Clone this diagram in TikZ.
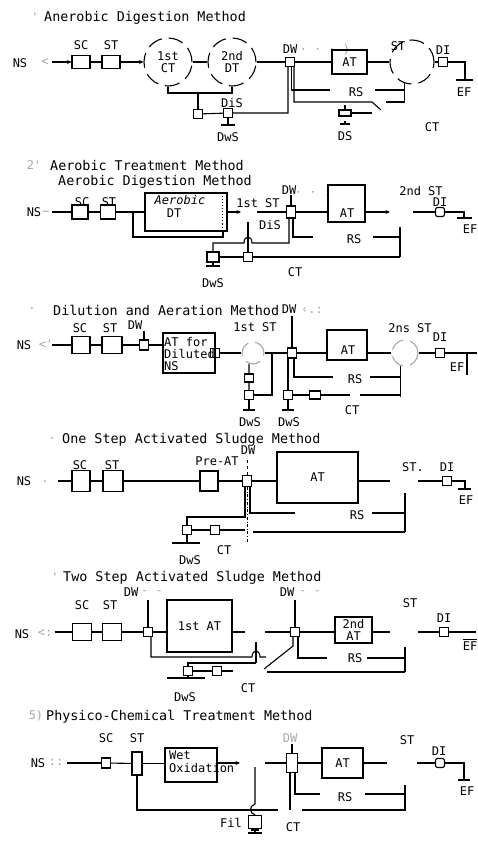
\documentclass[tikz,border=0pt]{standalone}
\usepackage{fontspec}
\newfontfamily\scanfont{DejaVu Sans Mono}
\usetikzlibrary{positioning,arrows.meta}
\newcommand{\lblfont}{\scanfont\fontsize{12}{12}\selectfont}
\newcommand{\headfont}{\scanfont\fontsize{13.4}{13.4}\selectfont}

\begin{document}
\begin{tikzpicture}[
    x=1pt, y=-1pt,
    every node/.style={font=\lblfont, inner sep=0pt},
    box/.style={draw, line width=1.1pt},
    valve/.style={draw, line width=1.1pt, minimum width=9pt, minimum height=9pt},
    tank/.style={circle, draw, line width=1.1pt, dash pattern=on 15pt off 7pt, minimum size=48pt, align=center},
    head/.style={anchor=west, font=\headfont},
    faint/.style={text=black!35},
    pipe/.style={line width=1.1pt},
    >={Stealth[length=4.5pt,width=4pt]}
]
\useasboundingbox (0,0) rectangle (477,841);

% 1) anaerobic digestion
\node[faint] (aNum) at (35,17) {'};
\node[head] (aHead) at (44,18) {Anerobic Digestion Method};
\node (aNS) at (20,63) {NS};
\node[faint] (aMk) at (45,62) {<};
\coordinate (aIn) at (52,62);
\node[box, minimum width=18pt, minimum height=13pt] (aSC) at (81,62) {};
\node[box, minimum width=18pt, minimum height=13pt] (aST) at (111,62) {};
\node[above=5pt of aSC] (aSCl) {SC};
\node[above=5pt of aST] (aSTl) {ST};
\node[tank] (aCT) at (168,62) {1st\\CT};
\node[tank] (aDT) at (232,62) {2nd\\DT};
\node[valve] (aDW) at (290,62) {};
\node[above=3pt of aDW] (aDWl) {DW};
\node[faint, right=2pt of aDWl] (aDWm) {· · · )};
\node[box, minimum width=35pt, minimum height=24pt] (aAT) at (349.5,62) {AT};
\node[tank, minimum size=44pt] (aST2) at (412,62) {};
\node (aST2l) at (398,46) {ST};
\node[valve] (aDI) at (443,62) {};
\node[above=2pt of aDI] (aDIl) {DI};
\coordinate (aEF) at (465,80);
\node (aEFl) at (464,92) {EF};

\draw[pipe,->] (aIn) -- (aSC);
\draw[pipe] (aSC) -- (aST);
\draw[pipe,->] (aST) -- (aCT);
\draw[pipe] (aCT) -- (aDT);
\draw[pipe] (aDT) -- (aDW);
\draw[pipe] (aDW) -- (aAT);
\draw[pipe] (aAT) -- (aST2);
\draw[pipe] (aST2) -- (aDI);
\draw[pipe] (aDI) -| (aEF);
\draw[pipe] ([xshift=-9pt]aEF) -- ([xshift=8pt]aEF);

% digested sludge
\coordinate (aBr) at (198,93);
\node[valve] (aSV) at (198,114) {};
\node[valve] (aDiS) at (228,113) {};
\node (aDiSl) at (232,103) {DiS};
\coordinate (aDwS) at (228,125);
\node (aDwSl) at (228,137) {DwS};
\coordinate (aK1) at (288,113);
\draw[pipe] (aCT.south) |- (aBr) -| (aDT.south);
\draw[pipe] (aBr) -- (aSV);
\draw[pipe] (aSV) -- (aDiS) -- (aK1) -- (aK1 |- aDW.south);
\draw[pipe] (aDiS) -- (aDwS);
\draw[pipe] ([xshift=-7pt]aDwS) -- ([xshift=7pt]aDwS);

% return sludge, DS and CT
\coordinate (aRSa) at (330,90);
\coordinate (aRSb) at (375,90);
\coordinate (aCTa) at (372,102);
\coordinate (aCTb) at (386,102);
\node (aRSl) at (356,92) {RS};
\draw[pipe] ([xshift=1.5pt]aDW.south) |- (aRSa);
\draw[pipe] ([xshift=4pt]aDW.south) |- (aCTa) -- ++(9,8);
\draw[pipe] (aRSb) -| (aST2.250);
\draw[pipe] (aST2.250) |- (aCTb);
\node[box, minimum width=12pt, minimum height=6pt] (aDS) at (345,113) {};
\coordinate (aDSr) at (372,113);
\coordinate (aDSg) at (345,124);
\node (aDSl) at (345,136) {DS};
\node (aCTl) at (432,127) {CT};
\draw[pipe] (aDS) -- (aDSr);
\draw[pipe] (aDS.north) -- ++(0,-4);
\draw[pipe] ([xshift=-5pt]aDSg) -- ([xshift=5pt]aDSg);
\draw[pipe] (aDSg) -- ++(0,-3);

% 2) aerobic treatment
\node[faint] (bNum) at (34,165) {2'};
\node[head] (bHead) at (50,166) {Aerobic Treatment Method};
\node[head] (bSub) at (58,182) {Aerobic Digestion Method};
\node (bNS) at (34,212) {NS};
\node[faint] (bMk) at (46,213) {\textasciitilde};
\coordinate (bIn) at (52,212);
\node[box, minimum width=16pt, minimum height=14pt] (bSC) at (80,212) {};
\node[box, minimum width=15pt, minimum height=14pt] (bST) at (108,212) {};
\node (bSCl) at (82,202) {SC};
\node (bSTl) at (109,202) {ST};
\node[box, minimum width=82pt, minimum height=38pt] (bDT) at (186,212) {};
\node[font=\lblfont\itshape] (bDTl1) at (180,200) {Aerobic};
\node (bDTl2) at (174,213) {DT};
\draw[dotted, line width=1.1pt] ([xshift=-5pt]bDT.north east) -- ([xshift=-5pt]bDT.south east);
\coordinate (bBr) at (133,212);
\coordinate (bBr2) at (223,237);
\draw[pipe] (bIn) -- (bSC);
\draw[pipe] (bSC) -- (bST);
\draw[pipe] (bST) -- (bDT);
\draw[pipe] (bBr) |- (bBr2) -- (bBr2 |- bDT.south);
\coordinate (bS1a) at (241,212);
\coordinate (bS1b) at (257,212);
\draw[pipe,->] (bDT) -- (bS1a);
\node (bS1l) at (258,203) {1st ST};
\node[valve, minimum height=12pt] (bDW) at (291,212) {};
\node (bDWl) at (289,190) {DW};
\node[faint] (bDWm) at (313,193) {· · :};
\draw[pipe] (bS1b) -- (bDW);
\draw[pipe] (bDW.north) -- ++(0,-10);
\node[box, minimum width=37pt, minimum height=37pt] (bAT) at (346.5,203.5) {};
\node (bATl) at (347,213) {AT};
\draw[pipe] (bDW) -- (bDW -| bAT.west);
\coordinate (bS2a) at (390,212);
\coordinate (bS2b) at (413,212);
\draw[pipe,->] (bAT.east |- bS2a) -- (bS2a);
\node (bS2l) at (421,191) {2nd ST};
\node[valve, rounded corners=2pt] (bDI) at (440,212) {};
\node (bDIl) at (440,202) {DI};
\coordinate (bEF) at (464,218);
\node (bEFl) at (470,229) {EF};
\draw[pipe] (bS2b) -- (bDI);
\draw[pipe] (bDI) -| (bEF);
\draw[pipe] ([xshift=-7pt]bEF) -- ([xshift=8pt]bEF);

% return sludge and CT
\coordinate (bRSa) at (313,237);
\coordinate (bRSb) at (373,237);
\coordinate (bV) at (400,227);
\coordinate (bCTr) at (400,257);
\node (bRSl) at (354,239) {RS};
\draw[pipe] ([xshift=2pt]bDW.south) |- (bRSa);
\draw[pipe] (bRSb) -| (bV);
\draw[pipe] (bV) -- (bCTr);
\node[valve, minimum width=12pt, minimum height=10pt] (bB1) at (213,257) {};
\node[valve] (bB2) at (248,257) {};
\coordinate (bDiS) at (248,222);
\node (bDiSl) at (270,225) {DiS};
\draw[pipe] (bDiS) -- (bB2);
\coordinate (bH) at (289,243);
\draw[pipe] (bB1.north) |- (244,243) .. controls (244,235) and (252,235) .. (252,243) -- (bH) -- (bH |- bDW.south);
\draw[pipe] (bB1) -- (bB2) -- (bCTr);
\node (bCTl) at (295,272) {CT};
\coordinate (bDwS) at (213,266);
\draw[pipe] (bB1.south) -- (bDwS);
\draw[pipe] ([xshift=-7pt]bDwS) -- ([xshift=7pt]bDwS);
\node (bDwSl) at (213,283) {DwS};

% 3) dilution and aeration
\node[faint] (cNum) at (32,310) {·};
\node[head] (cHead) at (53,310) {Dilution and Aeration Method};
\node (cNS) at (24,345) {NS};
\node[faint] (cMk) at (46,344) {<'};
\coordinate (cIn) at (52,345);
\node[box, minimum width=18pt, minimum height=17pt] (cSC) at (81,345) {};
\node[box, minimum width=20pt, minimum height=17pt] (cST) at (112,345) {};
\node (cSCl) at (80,328) {SC};
\node (cSTl) at (110,328) {ST};
\node[valve, minimum height=10pt] (cDWa) at (144,345) {};
\node (cDWal) at (135,325) {DW};
\draw[pipe] (cDWa.north) -- ++(0,-8);
\node[box, minimum width=52pt, minimum height=40pt] (cATd) at (189,353) {};
\node[align=left, anchor=north west] (cATdl) at (164,337) {AT for\\Diluted\\NS};
\node[valve] (cX) at (215,353) {};
\node[tank, minimum size=22pt, draw=black!35] (cST1) at (253,353) {};
\node (cST1l) at (255,327) {1st ST};
\node[valve, minimum height=10pt] (cDW) at (292,353) {};
\node (cDWl) at (289,309) {DW};
\node[faint] (cDWm) at (312,310) {‹.:};
\draw[pipe] (cDW.north) -- ++(0,-31);
\node[box, minimum width=40pt, minimum height=30pt] (cAT) at (347,345) {};
\node (cATl) at (348,350) {AT};
\node[tank, minimum size=26pt, draw=black!35] (cST2) at (405,353) {};
\node (cST2l) at (410,328) {2ns ST};
\node[valve] (cDI) at (440,353) {};
\node (cDIl) at (440,337) {DI};
\coordinate (cOut) at (477,353);
\coordinate (cEF) at (467,375);
\node (cEFl) at (457,367) {EF};
\draw[pipe] (cIn) -- (cSC);
\draw[pipe] (cSC) -- (cST);
\draw[pipe] (cST) -- (cDWa);
\draw[pipe] (cDWa) -- (cDWa -| cATd.west);
\draw[pipe] (cX) -- (cST1);
\draw[pipe] (cST1) -- (cDW);
\draw[pipe] (cDW) -- (cDW -| cAT.west);
\draw[pipe] (cAT.east |- cST2) -- (cST2);
\draw[pipe] (cST2) -- (cDI);
\draw[pipe] (cDI) -- (cOut);
\draw[pipe] (cEF |- cOut) -- (cEF);

% return sludge and CT
\coordinate (cRSa) at (333,377);
\coordinate (cRSb) at (370,377);
\coordinate (cV) at (403,397);
\node (cRSl) at (355,379) {RS};
\draw[pipe] ([xshift=2pt]cDW.south) |- (cRSa);
\draw[pipe] (cRSb) -| (cST2.250);
\draw[pipe] (cST2.250) -- (cST2.250 |- cV);
\node[valve] (cB3) at (288,395) {};
\node[valve, minimum width=11pt, minimum height=8pt] (cB4) at (315,395) {};
\coordinate (cCTa) at (350,395);
\coordinate (cCTb) at (360,395);
\draw[pipe] (cB3 |- cDW.south) -- (cB3);
\draw[pipe] (cB3) -- (cB4) -- (cCTa);
\draw[pipe] (cCTb) -- (cCTb -| cST2.250);
\node (cCTl) at (352,410) {CT};
\node[valve, minimum height=8pt] (cB1) at (249,378) {};
\node[valve] (cB2) at (249,395) {};
\draw[pipe] (cST1.250) -- (cB1) -- (cB2);
\coordinate (cK) at (272,353);
\draw[pipe] (cB2) -| (cK);
\coordinate (cG1) at (249,410);
\coordinate (cG2) at (288,410);
\draw[pipe] (cB2) -- (cG1);
\draw[pipe] (cB3) -- (cG2);
\draw[pipe] ([xshift=-6pt]cG1) -- ([xshift=6pt]cG1);
\draw[pipe] ([xshift=-6pt]cG2) -- ([xshift=6pt]cG2);
\node (cDwS1) at (250,422) {DwS};
\node (cDwS2) at (289,422) {DwS};

% 4) one step activated sludge
\node[faint] (dNum) at (52,440) {·};
\node[head] (dHead) at (62,440) {One Step Activated Sludge Method};
\node (dNS) at (24,481) {NS};
\node[faint] (dMk) at (45,482) {.};
\coordinate (dIn) at (58,481);
\node[box, minimum width=18pt, minimum height=21pt] (dSC) at (81,481) {};
\node[box, minimum width=20pt, minimum height=21pt] (dST) at (113,481) {};
\node (dSCl) at (80,465) {SC};
\node (dSTl) at (112,465) {ST};
\node[box, minimum width=18pt, minimum height=20pt] (dPre) at (209,481) {};
\node (dPrel) at (217,461) {Pre-AT};
\node[valve, minimum height=11pt] (dDW) at (247,481) {};
\node (dDWl) at (248,450) {DW};
\draw[dashed] (dDW.north) -- ++(0,-16);
\node[box, minimum width=81pt, minimum height=51pt] (dAT) at (317.5,477.5) {AT};
\coordinate (dS2a) at (390,481);
\coordinate (dS2b) at (418,481);
\node (dS2l) at (413,467) {ST.};
\node[valve] (dDI) at (447,481) {};
\node (dDIl) at (447,467) {DI};
\coordinate (dEF) at (465,489);
\node (dEFl) at (466,500) {EF};
\draw[pipe] (dIn) -- (dSC);
\draw[pipe] (dSC) -- (dST);
\draw[pipe] (dST) -- (dPre);
\draw[pipe] (dPre) -- (dDW);
\draw[pipe] (dDW) -- (dDW -| dAT.west);
\draw[pipe] (dAT.east |- dS2a) -- (dS2a);
\draw[pipe] (dS2b) -- (dDI);
\draw[pipe] (dDI) -| (dEF);
\draw[pipe] ([xshift=-7pt]dEF) -- ([xshift=6pt]dEF);

% return sludge and CT
\coordinate (dRSa) at (295,513);
\coordinate (dRSb) at (372,513);
\coordinate (dV) at (405,493);
\coordinate (dCTr) at (405,532);
\node (dRSl) at (357,515) {RS};
\draw[pipe] ([xshift=3pt]dDW.south) |- (dRSa);
\draw[pipe] (dRSb) -| (dV);
\draw[pipe] (dV) -- (dCTr);
\coordinate (dCTa) at (253,532);
\draw[pipe] (dCTa) -- (dCTr);
\node[valve] (dB1) at (187,530) {};
\node[valve] (dB2) at (215,530) {};
\coordinate (dK) at (187,517);
\coordinate (dB2r) at (245,530);
\draw[pipe] ([xshift=-2pt]dDW.south) |- (dK) -- (dB1);
\draw[pipe] (dB1) -- (dB2) -- (dB2r);
\draw[dash dot] (dDW.south) -- ++(0,55);
\node (dCTl) at (224,550) {CT};
\coordinate (dG) at (187,543);
\draw[pipe] (dB1) -- (dG);
\draw[pipe] ([xshift=-15pt]dG) -- ([xshift=13pt]dG);
\node (dDwSl) at (190,560) {DwS};

% 5) two step activated sludge
\node[faint] (eNum) at (55,577) {'};
\node[head] (eHead) at (63,578) {Two Step Activated Sludge Method};
\node (eNS) at (22,634) {NS};
\node[faint] (eMk) at (45,633) {<:};
\coordinate (eIn) at (55,632);
\node[box, minimum width=19pt, minimum height=17pt] (eSC) at (82,632) {};
\node[box, minimum width=19pt, minimum height=17pt] (eST) at (112,632) {};
\node (eSCl) at (82,605) {SC};
\node (eSTl) at (110,605) {ST};
\node[valve] (eJ1) at (148,632) {};
\node (eDW1l) at (131,592) {DW};
\node[faint] (eDW1m) at (152,593) {- -};
\draw[pipe] (eJ1.north) -- ++(0,-27);
\node[box, minimum width=65pt, minimum height=52pt] (eAT1) at (199.5,626) {1st AT};
\coordinate (eS1a) at (245,632);
\coordinate (eS1b) at (265,632);
\node[valve] (eJ2) at (295,632) {};
\node (eDW2l) at (287,592) {DW};
\node[faint] (eDW2m) at (310,593) {- -};
\draw[pipe] (eJ2.north) -- ++(0,-27);
\node[box, minimum width=37pt, minimum height=26pt, align=center] (eAT2) at (353.5,630) {2nd\\AT};
\coordinate (eS2a) at (390,632);
\coordinate (eS2b) at (418,632);
\node (eS2l) at (410,603) {ST};
\node[valve] (eDI) at (444,632) {};
\node (eDIl) at (444,618) {DI};
\coordinate (eOut) at (476,632);
\node (eEFl) at (470,646) {EF};
\draw[pipe] ([yshift=2pt]eEFl.north west) -- ([yshift=2pt]eEFl.north east);
\draw[pipe] (eIn) -- (eSC);
\draw[pipe] (eSC) -- (eST);
\draw[pipe] (eST) -- (eJ1);
\draw[pipe] (eJ1) -- (eJ1 -| eAT1.west);
\draw[pipe] (eAT1.east |- eS1a) -- (eS1a);
\draw[pipe] (eS1b) -- (eJ2);
\draw[pipe] (eJ2) -- (eJ2 -| eAT2.west);
\draw[pipe] (eAT2.east |- eS2a) -- (eS2a);
\draw[pipe] (eS2b) -- (eDI) -- (eOut);

% sludge lines
\coordinate (eR1) at (266,657);
\draw[pipe] ([xshift=3pt]eJ1.south) |- (252,657) .. controls (252,649) and (260,649) .. (260,657) -- (eR1);
\coordinate (eV1) at (256,642);
\coordinate (eV2) at (256,663);
\draw[pipe] (eV1) -- (eV2);
\node[valve] (eB1) at (188,671) {};
\node[valve] (eB2) at (217,671) {};
\coordinate (eB2r) at (233,671);
\draw[pipe] (eB1.north) |- (eV2);
\draw[pipe] (eB1) -- (eB2) -- (eB2r);
\coordinate (eD1) at (264,669);
\draw[pipe] ([xshift=-2pt]eJ2.south) -- ++(0,9) -- (eD1);
\coordinate (eRSa) at (327,658);
\coordinate (eRSb) at (367,658);
\coordinate (eV) at (405,647);
\coordinate (eCTr) at (405,672);
\coordinate (eCTa) at (267,672);
\node (eRSl) at (355,658) {RS};
\draw[pipe] ([xshift=3pt]eJ2.south) |- (eRSa);
\draw[pipe] (eRSb) -| (eV);
\draw[pipe] (eV) -- (eCTr);
\draw[pipe] (eCTa) -- (eCTr);
\node (eCTl) at (248,688) {CT};
\coordinate (eG) at (188,678);
\draw[pipe] (eB1) -- (eG);
\draw[pipe] ([xshift=-21pt]eG) -- ([xshift=17pt]eG);
\node (eDwSl) at (185,697) {DwS};

% 6) physico-chemical
\node[faint] (fNum) at (36,716) {5)};
\node[head] (fHead) at (46,717) {Physico-Chemical Treatment Method};
\node (fNS) at (38,763) {NS};
\node[faint] (fMk) at (56,762) {::};
\coordinate (fIn) at (67,763);
\node[valve, minimum height=10pt] (fSC) at (106,763) {};
\node[box, minimum width=10pt, minimum height=23pt] (fST) at (137,763.5) {};
\node (fSCl) at (106,738) {SC};
\node (fSTl) at (137,738) {ST};
\node[box, minimum width=52pt, minimum height=34pt] (fWO) at (191,765) {};
\node[anchor=west] (fWOl1) at (169,755) {Wet};
\node[anchor=west] (fWOl2) at (169,768) {Oxidation};
\coordinate (fS1a) at (240,763);
\coordinate (fS1b) at (265,763);
\node[valve, minimum width=11pt, minimum height=19pt] (fDW) at (292,763) {};
\node[faint] (fDWl) at (290,738) {DW};
\draw[pipe] (fDW.north) -- ++(0,-9);
\node[box, minimum width=41pt, minimum height=30pt] (fAT) at (342.5,763) {AT};
\coordinate (fS2a) at (387,763);
\coordinate (fS2b) at (417,763);
\node (fS2l) at (407,740) {ST};
\node[valve, rounded corners=2pt] (fDI) at (440,763) {};
\node (fDIl) at (439,751) {DI};
\coordinate (fEF) at (464,780);
\node (fEFl) at (467,791) {EF};
\draw[pipe] (fIn) -- (fSC);
\draw[pipe] (fSC) -- (fST);
\draw[pipe] (fST) -- (fST -| fWO.west);
\draw[pipe,->] (fWO.east |- fS1a) -- (fS1a);
\draw[pipe] (fS1b) -- (fDW);
\draw[pipe] (fDW) -- (fAT);
\draw[pipe] (fAT) -- (fS2a);
\draw[pipe] (fS2b) -- (fDI);
\draw[pipe] (fDI) -| (fEF);
\draw[pipe] ([xshift=-6pt]fEF) -- ([xshift=6pt]fEF);

% return sludge, CT and filter
\coordinate (fRSa) at (320,794);
\coordinate (fRSb) at (365,794);
\coordinate (fV) at (405,785);
\coordinate (fCTr) at (405,810);
\coordinate (fCTa) at (302,810);
\coordinate (fCTb) at (278,810);
\coordinate (fJ) at (290,810);
\node (fRSl) at (345,797) {RS};
\draw[pipe] ([xshift=3pt]fDW.south) |- (fRSa);
\draw[pipe] (fRSb) -| (fV);
\draw[pipe] (fV) -- (fCTr) -- (fCTa);
\draw[pipe] (fCTb) -| (fST.south);
\draw[pipe] ([xshift=-2pt]fDW.south) -- (fJ);
\node (fCTl) at (293,827) {CT};
\node[box, minimum width=13pt, minimum height=13pt] (fFil) at (255,822) {};
\node (fFill) at (231,823) {Fil};
\coordinate (fFt) at (255,767);
\draw[pipe] (fFt) -- (255,804) .. controls (249,806) and (249,813) .. (fFil.north);
\coordinate (fG) at (255,833);
\draw[pipe] (fFil.south) -- (fG);
\draw[pipe] ([xshift=-7pt]fG) -- ([xshift=7pt]fG);
\draw[pipe] ([xshift=-4pt,yshift=3pt]fG) -- ([xshift=4pt,yshift=3pt]fG);

\end{tikzpicture}
\end{document}
